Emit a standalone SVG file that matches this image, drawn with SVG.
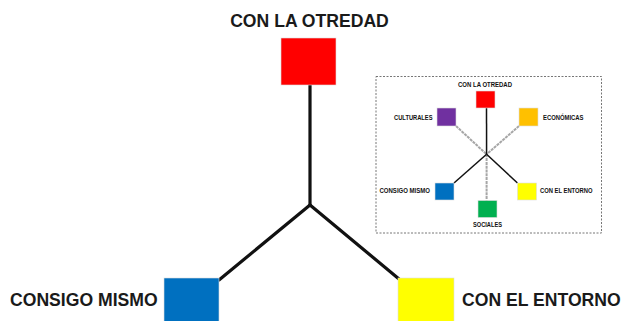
<svg xmlns="http://www.w3.org/2000/svg" width="621" height="321" viewBox="0 0 621 321">
<style>
.big{font-family:"Liberation Sans",Arial,sans-serif;font-weight:bold;font-size:17.6px;fill:#1a1a1a}
.sm{font-family:"Liberation Sans",Arial,sans-serif;font-weight:bold;font-size:6.8px;fill:#111}
.dark{stroke:#111;fill:none}
.gray{stroke:#a6a6a6;fill:none;stroke-width:2;stroke-dasharray:3 0.8}
.sq{stroke:#dcdcdc;stroke-width:0.6}
</style>
<rect width="621" height="321" fill="#fff"/>
<g id="connectors">
<line class="dark" x1="310" y1="85" x2="310" y2="205" stroke-width="3.2"/>
<line class="dark" x1="310" y1="205" x2="219" y2="280" stroke-width="3.2" stroke-linecap="round"/>
<line class="dark" x1="310" y1="205" x2="399" y2="279" stroke-width="3.2" stroke-linecap="round"/>
</g>
<g id="otredad">
<rect class="sq" x="281" y="38" width="55" height="47" fill="#FF0000"/>
<text class="big" x="309.5" y="27" text-anchor="middle">CON LA OTREDAD</text>
</g>
<g id="consigo">
<rect class="sq" x="164" y="278" width="55" height="50" fill="#0070C0"/>
<text class="big" x="10" y="306">CONSIGO MISMO</text>
</g>
<g id="entorno">
<rect class="sq" x="398" y="278" width="56" height="50" fill="#FFFF00"/>
<text class="big" x="462" y="306">CON EL ENTORNO</text>
</g>
<g id="inset">
<rect x="376" y="76.5" width="225.5" height="156.5" fill="none" stroke="#666" stroke-width="0.9" stroke-dasharray="2 1.5"/>
<g id="inset-connectors">
<line class="gray" x1="456" y1="126" x2="486.6" y2="154.3"/>
<line class="gray" x1="519" y1="126" x2="486.6" y2="154.3"/>
<line class="gray" x1="486.6" y1="154.3" x2="486.6" y2="200.5"/>
<line class="dark" x1="486.5" y1="107.5" x2="486.6" y2="154.3" stroke-width="1.5"/>
<line class="dark" x1="486.6" y1="154.3" x2="454" y2="183" stroke-width="1.5"/>
<line class="dark" x1="486.6" y1="154.3" x2="517.5" y2="183" stroke-width="1.5"/>
</g>
<g id="i-otredad">
<rect class="sq" x="476" y="91" width="19" height="17" fill="#FF0000"/>
<text class="sm" x="458" y="87" textLength="54" lengthAdjust="spacingAndGlyphs">CON LA OTREDAD</text>
</g>
<g id="i-culturales">
<rect class="sq" x="437" y="108" width="19" height="18" fill="#7030A0"/>
<text class="sm" x="394" y="119.5" textLength="38.5" lengthAdjust="spacingAndGlyphs">CULTURALES</text>
</g>
<g id="i-economicas">
<rect class="sq" x="519" y="108" width="19" height="18" fill="#FFC000"/>
<text class="sm" x="543" y="120" textLength="40.5" lengthAdjust="spacingAndGlyphs">ECONÓMICAS</text>
</g>
<g id="i-consigo">
<rect class="sq" x="435" y="183" width="19" height="17" fill="#0070C0"/>
<text class="sm" x="379.5" y="193" textLength="50.5" lengthAdjust="spacingAndGlyphs">CONSIGO MISMO</text>
</g>
<g id="i-entorno">
<rect class="sq" x="517.5" y="183" width="19" height="17" fill="#FFFF00"/>
<text class="sm" x="540" y="193" textLength="52.5" lengthAdjust="spacingAndGlyphs">CON EL ENTORNO</text>
</g>
<g id="i-sociales">
<rect class="sq" x="478" y="200.5" width="19" height="17" fill="#00B050"/>
<text class="sm" x="473" y="227" textLength="29" lengthAdjust="spacingAndGlyphs">SOCIALES</text>
</g>
</g>
</svg>
